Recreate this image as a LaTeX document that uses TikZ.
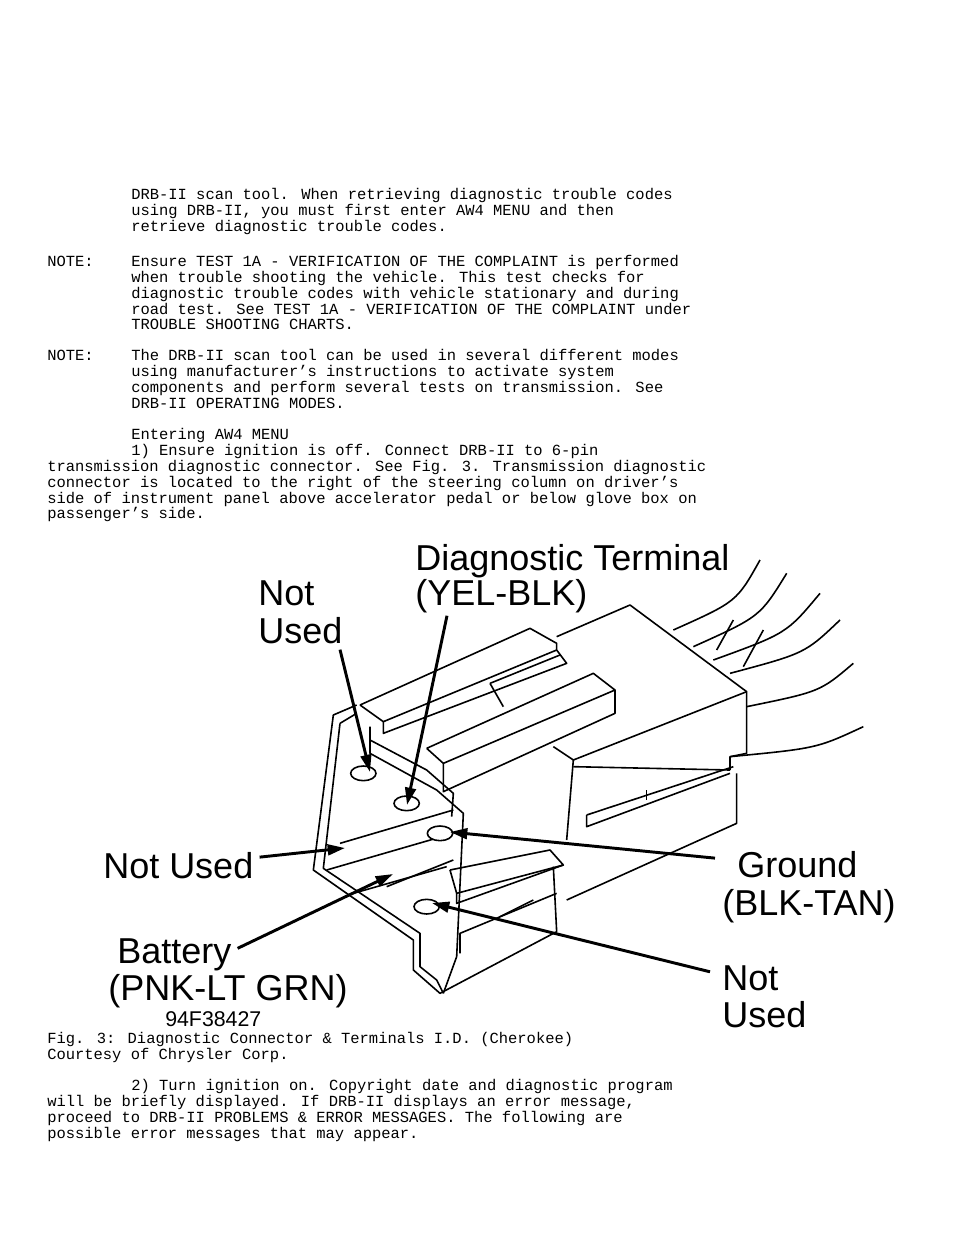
\documentclass[tikz,border=0pt]{standalone}
\usepackage{fontspec}
\setmainfont{Liberation Mono}
\newfontfamily\labelfont{Liberation Sans}
\usetikzlibrary{arrows.meta,positioning}
\newcommand{\txtline}[4]{\node (#1) at (#2,#3) [Txt] {#4};}
\begin{document}
\begin{tikzpicture}[x=0.75pt,y=-0.75pt]
			\tikzstyle{Txt}		= [anchor=base west, inner sep=0pt, font=\fontsize{11.6}{12}\selectfont]
			\tikzstyle{Lbl}		= [anchor=base west, inner sep=0pt, font=\labelfont\fontsize{27}{30}\selectfont]
			\tikzstyle{Ptr}		= [line width=2.2pt, -{Triangle[length=13pt,width=8pt]}]
			\tikzstyle{Edge}	= [line width=1.2pt, line join=round]
			\tikzstyle{Hole}	= [Edge, fill=white]

			\useasboundingbox (0,0) rectangle (960,1242);

			% text above the figure
			\txtline{t1}{131}{199}{DRB-II scan tool. When retrieving diagnostic trouble codes}
			\txtline{t2}{131}{215}{using DRB-II, you must first enter AW4 MENU and then}
			\txtline{t3}{131}{231}{retrieve diagnostic trouble codes.}
			\txtline{n1}{47}{266}{NOTE:}
			\txtline{t4}{131}{266}{Ensure TEST 1A - VERIFICATION OF THE COMPLAINT is performed}
			\txtline{t5}{131}{282}{when trouble shooting the vehicle. This test checks for}
			\txtline{t6}{131}{298}{diagnostic trouble codes with vehicle stationary and during}
			\txtline{t7}{131}{314}{road test. See TEST 1A - VERIFICATION OF THE COMPLAINT under}
			\txtline{t8}{131}{329}{TROUBLE SHOOTING CHARTS.}
			\txtline{n2}{47}{360}{NOTE:}
			\txtline{t9}{131}{360}{The DRB-II scan tool can be used in several different modes}
			\txtline{t10}{131}{376}{using manufacturer’s instructions to activate system}
			\txtline{t11}{131}{392}{components and perform several tests on transmission. See}
			\txtline{t12}{131}{408}{DRB-II OPERATING MODES.}
			\txtline{t13}{131}{439}{Entering AW4 MENU}
			\txtline{t14}{131}{455}{1) Ensure ignition is off. Connect DRB-II to 6-pin}
			\txtline{t15}{47}{471}{transmission diagnostic connector. See Fig. 3. Transmission diagnostic}
			\txtline{t16}{47}{487}{connector is located to the right of the steering column on driver’s}
			\txtline{t17}{47}{503}{side of instrument panel above accelerator pedal or below glove box on}
			\txtline{t18}{47}{518}{passenger’s side.}

			% text below the figure
			\txtline{c1}{47}{1043}{Fig. 3:  Diagnostic Connector \& Terminals I.D. (Cherokee)}
			\txtline{c2}{47}{1059}{Courtesy of Chrysler Corp.}
			\txtline{t19}{131}{1090}{2) Turn ignition on. Copyright date and diagnostic program}
			\txtline{t20}{47}{1106}{will be briefly displayed. If DRB-II displays an error message,}
			\txtline{t21}{47}{1122}{proceed to DRB-II PROBLEMS \& ERROR MESSAGES. The following are}
			\txtline{t22}{47}{1138}{possible error messages that may appear.}

			% connector body
			\begin{scope}[shift={(300,540)}, x=0.25pt, y=-0.25pt]
				% wires
				\foreach \a/\b/\c/\d in {1120/270/1380/60, 1180/320/1460/100, 1240/360/1560/160, 1290/400/1620/240, 1340/500/1660/370, 1290/650/1690/560}
					\draw [Edge] (\a,\b) .. controls ({(\a+\c)/2+60},{(\b+\d)/2+20}) .. (\c,\d);
				\draw [Edge] (1300,240) -- (1250,330);
				\draw [Edge] (1390,270) -- (1330,380);
				% main housing
				\draw [Edge] (770,290) -- (990,195) -- (1340,455) -- (1340,640) -- (1290,650) -- (1290,690);
				\draw [Edge] (1340,455) -- (820,660);
				% upper ridge
				\draw [Edge] (180,495) -- (690,265) -- (770,310) -- (770,330) -- (250,545) -- (180,495);
				\draw [Edge] (250,545) -- (250,580) -- (800,370) -- (770,330);
				\draw [Edge] (570,430) -- (780,345);
				\draw [Edge] (570,430) -- (610,500);
				% middle ridge
				\draw [Edge] (380,625) -- (880,400) -- (945,450) -- (430,670) -- (380,625);
				\draw [Edge] (945,450) -- (945,520) -- (430,755) -- (430,670);
				\draw [Edge] (760,620) -- (820,660) -- (800,900);
				% lower right block
				\draw [Edge] (1310,700) -- (1310,850) -- (800,1080);
				\draw [Edge] (820,680) -- (1290,690);
				\draw [Edge] (860,825) -- (1300,680);
				\draw [Edge] (860,825) -- (860,860) -- (1290,700);
				\draw [Edge] (1040,750) -- (1040,780);
				% left bracket
				\draw [Edge] (170,495) -- (100,525) -- (40,990) -- (340,1200) -- (340,1290) -- (420,1360) -- (770,1175) -- (760,980);
				\draw [Edge] (120,550) -- (70,985) -- (360,1180) -- (360,1280) -- (410,1320) -- (430,1360);
				\draw [Edge] (120,550) -- (170,520);
				\draw [Edge] (210,560) -- (210,640) -- (410,750) -- (490,820) -- (470,1250) -- (430,1360);
				\draw [Edge] (210,600) -- (380,690) -- (460,760) -- (455,830);
				% lower plug
				\draw [Edge] (450,990) -- (750,930) -- (790,975) -- (470,1060) -- (450,990);
				\draw [Edge] (470,1060) -- (470,1090) -- (790,975);
				\draw [Edge] (480,1240) -- (480,1180) -- (770,1060);
				\draw [Edge] (600,1130) -- (700,1080);
				% slots
				\draw [Edge] (120,910) -- (460,810);
				\draw [Edge] (80,990) -- (460,880);
				\draw [Edge] (260,1040) -- (460,960);
				\draw [Edge] (160,1060) -- (440,980);
				% terminal holes
				\foreach \hx/\hy in {190/700, 320/790, 420/880, 380/1100}
					\draw [Hole] (\hx,\hy) ellipse [x radius=38, y radius=22];
			\end{scope}

			% labels
			\node (lDiag) at (415,570) [Lbl] {Diagnostic Terminal};
			\node (lDiagC) at (415,605) [Lbl] {(YEL-BLK)};
			\node (lNot1) at (258,605) [Lbl] {Not};
			\node (lUsed1) at (258,643) [Lbl] {Used};
			\node (lNot2) at (103,878) [Lbl] {Not Used};
			\node (lGnd) at (737,877) [Lbl] {Ground};
			\node (lGndC) at (722,915) [Lbl] {(BLK-TAN)};
			\node (lBat) at (117,963) [Lbl] {Battery};
			\node (lBatC) at (108,1000) [Lbl] {(PNK-LT GRN)};
			\node (lNot3) at (722,990) [Lbl] {Not};
			\node (lUsed3) at (722,1027) [Lbl] {Used};
			\node (lNum) at (165,1026) [anchor=base west, inner sep=0pt, font=\labelfont\fontsize{16}{17}\selectfont] {94F38427};

			% pointers
			\coordinate (pNot1) at (370,772);
			\coordinate (pDiag) at (407,805);
			\coordinate (pNot2) at (345,848);
			\coordinate (pBat) at (393,874);
			\coordinate (pGnd) at (450,832);
			\coordinate (pNot3) at (432,903);
			\draw [Ptr] (lUsed1.south west) ++(82,6) -- (pNot1);
			\draw [Ptr] (lDiagC.south west) ++(32,3) -- (pDiag);
			\draw [Ptr] (lNot2.east) ++(6,-8) -- (pNot2);
			\draw [Ptr] (lBat.east) ++(6,-6) -- (pBat);
			\draw [Ptr] (lGnd.west) ++(-22,-6) -- (pGnd);
			\draw [Ptr] (lNot3.west) ++(-12,-6) -- (pNot3);
\end{tikzpicture}
\end{document}
